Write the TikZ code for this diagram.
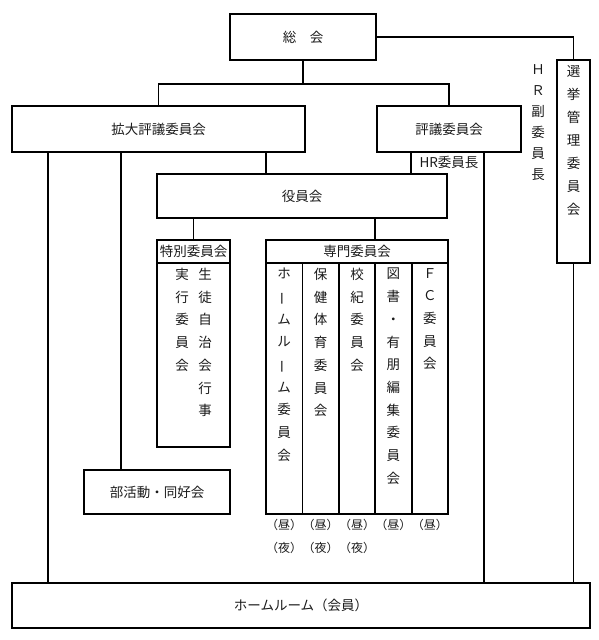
\documentclass[tikz,border=0pt]{standalone}
\usepackage{fontspec}
\usepackage{graphicx}
\setmainfont{Noto Sans CJK JP}
\usetikzlibrary{positioning,calc}
\definecolor{inkBlack}{HTML}{1A1A1A}
\newcommand{\vbar}{\rotatebox[origin=c]{90}{ー}}

\begin{document}
\begin{tikzpicture}[x=1pt,y=-1pt,
  box/.style={draw=black,line width=1.8pt,inner sep=0pt,text=inkBlack,font=\fontsize{13.5}{16}\selectfont},
  link/.style={draw=black,line width=1.8pt},
  lab/.style={inner sep=0pt,text=inkBlack,font=\fontsize{13.5}{16}\selectfont},
  vtext/.style={anchor=north,inner sep=0pt,align=center,text=inkBlack,font=\fontsize{13.5}{22.7}\selectfont}]
  \useasboundingbox (0,0) rectangle (598,640);

  % boxes
  \node[box,minimum width=146pt,minimum height=46pt] (soukai) at (303,37) {総　会};
  \node[box,minimum width=293pt,minimum height=46pt] (kakudai) at (158.5,129) {拡大評議委員会};
  \node[box,minimum width=144pt,minimum height=46pt] (hyougi) at (449,129) {評議委員会};
  \node[box,minimum width=33pt,minimum height=203pt] (senkyo) at (573.5,161.5) {};
  \node[box,minimum width=290pt,minimum height=44pt] (yakuin) at (302,196) {役員会};
  \node[box,minimum width=73pt,minimum height=207pt] (tokubetsu) at (193.5,343.5) {};
  \node[box,minimum width=182pt,minimum height=274pt] (senmon) at (357,377) {};
  \node[box,minimum width=146pt,minimum height=44pt] (bukatsu) at (157,492) {部活動・同好会};
  \node[box,minimum width=578pt,minimum height=45pt] (homeroom) at (301,605.5) {ホームルーム（会員）};

  % headers of the two committee tables
  \coordinate (hdr) at (0,263);
  \draw[link] (tokubetsu.west |- hdr) -- (tokubetsu.east |- hdr);
  \draw[link] (senmon.west |- hdr) -- (senmon.east |- hdr);
  \node[lab] (tokuHead) at (193.5,251.5) {特別委員会};
  \node[lab] (senHead) at (357,251.5) {専門委員会};
  \foreach \x in {302.4,338.8,375.2,411.6} {
    \coordinate (cut) at (\x,263);
    \draw[link] (cut) -- (cut |- senmon.south);
  }

  % vertical names
  \node[vtext] (toku1) at (182,268) {実\\行\\委\\員\\会};
  \node[vtext] (toku2) at (205,268) {生\\徒\\自\\治\\会\\行\\事};
  \foreach \x/\txt [count=\i] in {284.2/{ホ\\\vbar\\ム\\ル\\\vbar\\ム\\委\\員\\会},
      320.6/{保\\健\\体\\育\\委\\員\\会},
      357/{校\\紀\\委\\員\\会},
      393.4/{図\\書\\・\\有\\朋\\編\\集\\委\\員\\会},
      429.8/{Ｆ\\Ｃ\\委\\員\\会}} {
    \node[vtext] (sm\i) at (\x,268) {\txt};
    \node[lab,font=\fontsize{12}{14}\selectfont] (noon\i) at (\x,525) {（昼）};
  }
  \foreach \x [count=\i] in {284.2,320.6,357} {
    \node[lab,font=\fontsize{12}{14}\selectfont] (night\i) at (\x,548) {（夜）};
  }
  \node[vtext,font=\fontsize{13.5}{23}\selectfont] (senkyoTxt) at (573.5,65) {選\\挙\\管\\理\\委\\員\\会};
  \node[vtext,font=\fontsize{13.5}{21}\selectfont] (hrVice) at (538,64) {Ｈ\\Ｒ\\副\\委\\員\\長};
  \node[lab] (hrChief) at (449,162) {HR委員長};

  % connectors
  \coordinate (xHRl) at (48,0);
  \coordinate (xBu) at (121,0);
  \coordinate (xYa) at (266,0);
  \coordinate (xYb) at (411,0);
  \coordinate (xHRr) at (484,0);
  \coordinate (xSm) at (375.2,0);
  \draw[link] (soukai.east) -| (senkyo.north);
  \draw[link] (soukai.south) -- ++(0,23) coordinate (bus);
  \draw[link] (kakudai.north) |- (bus) -| (hyougi.north);
  \draw[link] (kakudai.south -| xHRl) -- (homeroom.north -| xHRl);
  \draw[link] (kakudai.south -| xBu) -- (bukatsu.north -| xBu);
  \draw[link] (kakudai.south -| xYa) -- (yakuin.north -| xYa);
  \draw[link] (hyougi.south -| xYb) -- (yakuin.north -| xYb);
  \draw[link] (hyougi.south -| xHRr) -- (homeroom.north -| xHRr);
  \draw[link] (senkyo.south) -- (senkyo.south |- homeroom.north);
  \draw[link] (yakuin.south -| tokubetsu.north) -- (tokubetsu.north);
  \draw[link] (yakuin.south -| xSm) -- (senmon.north -| xSm);
\end{tikzpicture}
\end{document}
